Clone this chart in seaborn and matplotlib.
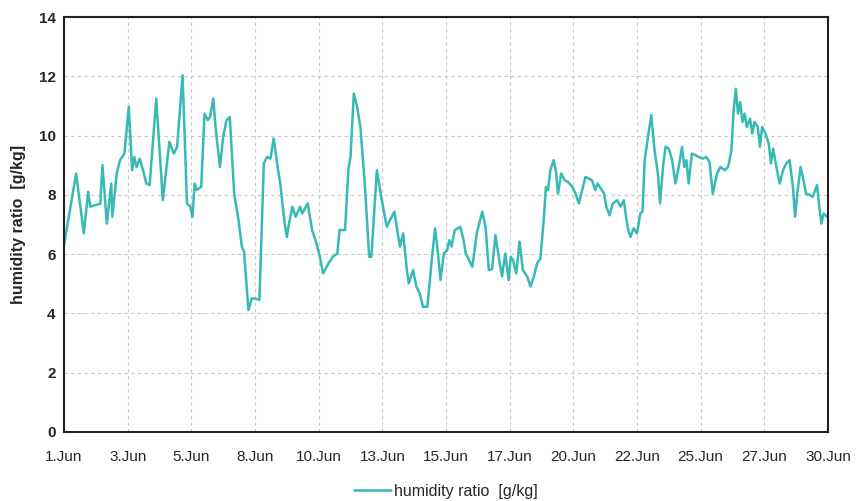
import matplotlib
matplotlib.use("Agg")
import matplotlib.pyplot as plt
import pandas as pd
import seaborn as sns

# Data: hours since 1 Jun 00:00 and humidity ratio [g/kg]
hours = [0, 11, 18, 22, 24, 28, 33, 35, 39, 43, 44, 48, 51, 55, 59, 62, 64, 66, 69, 72,
         75, 78, 84, 90, 96, 100, 103, 108, 112, 115, 117, 119, 121, 125, 128, 131, 133,
         136, 138, 142, 145, 148, 151, 155, 159, 162, 164, 168, 171, 174, 178, 182, 185,
         188, 191, 195, 197, 201, 203, 205, 208, 211, 215, 217, 222, 226, 230, 233, 236,
         241, 245, 249, 251, 256, 259, 261, 264, 267, 270, 274, 278, 280, 285, 289, 294,
         297, 301, 304, 306, 309, 312, 314, 318, 321, 324, 327, 331, 335, 338, 340, 343,
         346, 349, 351, 353, 356, 361, 364, 366, 369, 372, 376, 381, 384, 387, 390, 393,
         396, 399, 402, 405, 407, 409, 412, 415, 418, 422, 425, 428, 431, 434, 437, 439,
         441, 443, 446, 448, 450, 453, 456, 459, 463, 466, 469, 472, 475, 478, 481, 484,
         486, 488, 492, 494, 497, 500, 504, 507, 510, 512, 514, 516, 519, 522, 525, 527,
         529, 532, 535, 538, 541, 543, 546, 548, 551, 554, 557, 560, 563, 565, 567, 569,
         572, 575, 578, 582, 585, 588, 591, 595, 598, 602, 605, 608, 610, 612, 614, 616,
         618, 620, 622, 625, 627, 629, 632, 634, 636, 639, 642, 644, 646, 649, 652, 655,
         658, 661, 664, 666, 668, 671, 673, 676, 679, 682, 686, 688, 690, 692, 695]
humidity = [6.3, 8.72, 6.7, 8.1, 7.6, 7.65, 7.7, 9.0, 7.03, 8.38, 7.26, 8.72, 9.17, 9.39,
            10.97, 8.83, 9.28, 8.94, 9.22, 8.83, 8.38, 8.33, 11.25, 7.82, 9.79, 9.39, 9.62,
            12.03, 7.71, 7.6, 7.26, 8.38, 8.16, 8.27, 10.74, 10.52, 10.63, 11.25, 10.29,
            8.94, 9.96, 10.52, 10.63, 8.04, 7.15, 6.25, 6.08, 4.11, 4.5, 4.5, 4.45, 9.06,
            9.28, 9.22, 9.9, 8.83, 8.38, 7.03, 6.58, 7.03, 7.6, 7.26, 7.6, 7.37, 7.71, 6.81,
            6.36, 5.91, 5.35, 5.69, 5.91, 6.02, 6.81, 6.81, 8.83, 9.28, 11.42, 10.97, 10.29,
            8.38, 5.91, 5.91, 8.83, 7.93, 6.92, 7.15, 7.43, 6.7, 6.25, 6.7, 5.57, 5.01, 5.46,
            4.9, 4.67, 4.22, 4.22, 5.8, 6.87, 6.25, 5.12, 6.02, 6.13, 6.47, 6.25, 6.81, 6.92,
            6.47, 6.02, 5.8, 5.57, 6.7, 7.43, 6.92, 5.46, 5.5, 6.64, 5.91, 5.24, 6.02, 5.12,
            5.91, 5.8, 5.35, 6.42, 5.46, 5.24, 4.9, 5.24, 5.69, 5.85, 7.15, 8.27, 8.16, 8.83,
            9.17, 8.83, 8.04, 8.72, 8.49, 8.44, 8.27, 8.04, 7.71, 8.16, 8.6, 8.55, 8.49, 8.16,
            8.38, 8.27, 8.04, 7.6, 7.31, 7.71, 7.82, 7.6, 7.82, 7.26, 6.81, 6.58, 6.87, 6.7,
            7.37, 7.43, 9.17, 9.96, 10.69, 9.5, 8.72, 7.71, 9.06, 9.62, 9.56, 9.17, 8.38,
            8.94, 9.62, 8.94, 9.17, 8.38, 9.39, 9.34, 9.28, 9.22, 9.28, 9.11, 8.04, 8.72,
            8.94, 8.83, 8.94, 9.5, 10.85, 11.58, 10.74, 11.13, 10.46, 10.74, 10.29, 10.57,
            10.07, 10.46, 10.29, 9.62, 10.29, 10.07, 9.73, 9.06, 9.56, 8.94, 8.38, 8.83,
            9.06, 9.17, 8.27, 7.26, 8.04, 8.94, 8.6, 8.04, 8.0, 7.93, 8.33, 7.6, 7.03, 7.37,
            7.26]
tick_labels = ["1.Jun", "3.Jun", "5.Jun", "8.Jun", "10.Jun", "13.Jun", "15.Jun",
               "17.Jun", "20.Jun", "22.Jun", "25.Jun", "27.Jun", "30.Jun"]

start = pd.Timestamp("2023-06-01")
end = pd.Timestamp("2023-06-30")
df = pd.DataFrame({"time": start + pd.to_timedelta(hours, unit="h"), "value": humidity})

sns.set_style("white")
plt.rcParams["font.family"] = ["Liberation Sans", "DejaVu Sans"]

fig = plt.figure(figsize=(8.56, 5.01), dpi=100)
ax = fig.add_axes([0.0748, 0.138, 0.8925, 0.828])

sns.lineplot(data=df, x="time", y="value", ax=ax, color="#38bab4", linewidth=1.8,
             label="humidity ratio  [g/kg]")

ax.set_xlim(start, end)
ax.set_ylim(0, 14)
ax.set_yticks(range(0, 15, 2))
ax.set_yticklabels([str(v) for v in range(0, 15, 2)], fontweight="bold", fontsize=11)
xticks = [start + (end - start) * i / 12 for i in range(13)]
ax.set_xticks(xticks)
ax.set_xticklabels(tick_labels, fontsize=11)
ax.tick_params(axis="x", length=0, pad=13)
ax.tick_params(axis="y", length=0, pad=6)

ax.grid(True, color="#c8c8c8", linestyle=(0, (3, 3)), linewidth=0.8)
for side in ax.spines.values():
    side.set_color("#222222")
    side.set_linewidth(1.5)

ax.set_xlabel("")
ax.set_ylabel("humidity ratio  [g/kg]", fontweight="bold", fontsize=11.5, labelpad=9)

ax.legend(loc="upper center", bbox_to_anchor=(0.50, -0.09), frameon=False,
          fontsize=11.5, handlelength=2.3, handletextpad=0.2)

fig.savefig("out.png", dpi=100)
